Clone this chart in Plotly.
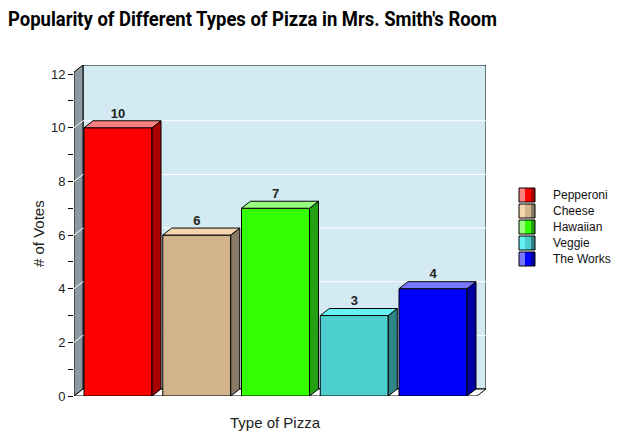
import plotly.graph_objects as go

# ---- data ----
categories = ["Pepperoni", "Cheese", "Hawaiian", "Veggie", "The Works"]
votes = [10, 6, 7, 3, 4]
y_tick_values = list(range(0, 13))
y_tick_labels = [str(v) if v % 2 == 0 else "" for v in y_tick_values]
grid_values = [2, 4, 6, 8, 10]

# ---- style ----
front_colors = ["#FF0000", "#D2B48C", "#33FF00", "#4DCFCF", "#0000FF"]
side_colors = ["#A60000", "#8A7A66", "#22A012", "#2F8585", "#0000A0"]
top_colors = ["#FF8080", "#F5D6AE", "#99FF80", "#66F2F2", "#7878FF"]

W, H = 618, 438
ML, MR, MT, MB = 74, 132, 65, 42
X0, X1 = -0.559, 4.673
Y0, Y1 = 0.0, 12.34
plot_w = W - ML - MR
plot_h = H - MT - MB
DX = 9 * (X1 - X0) / plot_w      # depth offset in data units (x)
DY = 7 * (Y1 - Y0) / plot_h      # depth offset in data units (y)
BW = 0.8635
FONT = "Liberation Sans, Arial, sans-serif"
TITLE_WIDTH_PX = 489


def px_x(p):
    return (p - ML) / plot_w


def px_y(p):
    return (H - MB - p) / plot_h


def poly_path(pts):
    return "M " + " L ".join(f"{x},{y}" for x, y in pts) + " Z"


fig = go.Figure()
shapes = []
annotations = []

# back wall
shapes.append(dict(type="path", xref="x", yref="y", layer="below",
                   path=poly_path([(X0 + DX, DY), (X1, DY), (X1, Y1), (X0 + DX, Y1)]),
                   fillcolor="#D3EAF2", line=dict(color="black", width=1)))
# left wall
shapes.append(dict(type="path", xref="x", yref="y", layer="below",
                   path=poly_path([(X0, Y0), (X0 + DX, DY), (X0 + DX, Y1), (X0, Y1 - DY)]),
                   fillcolor="#8C99A1", line=dict(color="black", width=1)))
# floor
shapes.append(dict(type="path", xref="x", yref="y", layer="below",
                   path=poly_path([(X0, Y0), (X1 - DX, Y0), (X1, DY), (X0 + DX, DY)]),
                   fillcolor="white", line=dict(color="black", width=1)))
# gridlines
for g in grid_values:
    shapes.append(dict(type="path", xref="x", yref="y", layer="below",
                       path=f"M {X0},{g} L {X0 + DX},{g + DY} L {X1},{g + DY}",
                       line=dict(color="white", width=1)))

# front faces (bars)
for i, (cat, v) in enumerate(zip(categories, votes)):
    fig.add_trace(go.Bar(x=[i], y=[v], width=BW, name=cat, showlegend=False,
                         marker=dict(color=front_colors[i], line=dict(color="black", width=1)),
                         hoverinfo="skip"))

# side and top faces
for i, v in enumerate(votes):
    l, r = i - BW / 2, i + BW / 2
    side = [(r, 0), (r + DX, DY), (r + DX, v + DY), (r, v), (r, 0)]
    top = [(l, v), (l + DX, v + DY), (r + DX, v + DY), (r, v), (l, v)]
    for pts, col in ((side, side_colors[i]), (top, top_colors[i])):
        fig.add_trace(go.Scatter(x=[p[0] for p in pts], y=[p[1] for p in pts],
                                 mode="lines", fill="toself", fillcolor=col,
                                 line=dict(color="black", width=1),
                                 showlegend=False, hoverinfo="skip", cliponaxis=False))

# value labels
fig.add_trace(go.Scatter(x=list(range(len(votes))), y=[v + DY for v in votes],
                         mode="text", text=[str(v) for v in votes],
                         textposition="top center",
                         textfont=dict(family=FONT, size=13, color="#222222", weight="bold"),
                         showlegend=False, hoverinfo="skip", cliponaxis=False))

# custom legend (swatch with light / base / dark strips)
LEG_X, LEG_TOP, LEG_STEP = 519, 188, 16
for k, cat in enumerate(categories):
    top_px = LEG_TOP + k * LEG_STEP
    bot_px = top_px + 14
    strips = [(0, 6, top_colors[k]), (6, 12, front_colors[k]), (12, 16, side_colors[k])]
    for a, b, col in strips:
        shapes.append(dict(type="rect", xref="paper", yref="paper", layer="above",
                           x0=px_x(LEG_X + a), x1=px_x(LEG_X + b),
                           y0=px_y(bot_px), y1=px_y(top_px),
                           fillcolor=col, line=dict(width=0)))
    shapes.append(dict(type="rect", xref="paper", yref="paper", layer="above",
                       x0=px_x(LEG_X), x1=px_x(LEG_X + 16),
                       y0=px_y(bot_px), y1=px_y(top_px),
                       fillcolor="rgba(0,0,0,0)", line=dict(color="black", width=1)))
    annotations.append(dict(text=cat, xref="paper", yref="paper",
                            x=px_x(551), y=px_y(top_px + 7),
                            xanchor="left", yanchor="middle", showarrow=False,
                            font=dict(family=FONT, size=12, color="#111111")))

annotations += [
    dict(text="Type of Pizza", xref="x", yref="paper",
         x=(X0 + X1 - DX) / 2, y=px_y(422),
         xanchor="center", yanchor="middle", showarrow=False,
         font=dict(family=FONT, size=15, color="#222222")),
    dict(text="# of Votes", xref="paper", yref="paper",
         x=px_x(38), y=px_y(234),
         xanchor="center", yanchor="middle", textangle=-90, showarrow=False,
         font=dict(family=FONT, size=15, color="#222222")),
]

fig.update_layout(
    width=W, height=H,
    margin=dict(l=ML, r=MR, t=MT, b=MB, autoexpand=False),
    paper_bgcolor="white", plot_bgcolor="rgba(0,0,0,0)",
    barmode="overlay",
    showlegend=False,
    shapes=shapes,
    annotations=annotations,
    title=dict(text="Popularity of Different Types of Pizza in Mrs. Smith's Room",
               x=8 / W, xanchor="left", xref="container",
               y=1 - 19 / H, yanchor="middle", yref="container",
               font=dict(family="Roboto, DejaVu Sans, sans-serif",
                         size=20, color="black", weight="bold")),
    xaxis=dict(range=[X0, X1], showgrid=False, zeroline=False, showticklabels=False,
               showline=False, ticks="", fixedrange=True),
    yaxis=dict(range=[Y0, Y1], showgrid=False, zeroline=False, showline=False,
               tickvals=y_tick_values, ticktext=y_tick_labels,
               ticks="outside", ticklen=5, tickcolor="black", tickwidth=1,
               tickfont=dict(family=FONT, size=13, color="#222222"),
               fixedrange=True),
)

post = (
    "document.body.style.margin='0';"
    "var gd=document.getElementById('{plot_id}');"
    "var t=gd.querySelector('.gtitle');"
    "if(t){t.setAttribute('textLength','" + str(TITLE_WIDTH_PX) + "');"
    "t.setAttribute('lengthAdjust','spacingAndGlyphs');}"
)

fig.write_html("out.html", post_script=post, config={"staticPlot": True})
